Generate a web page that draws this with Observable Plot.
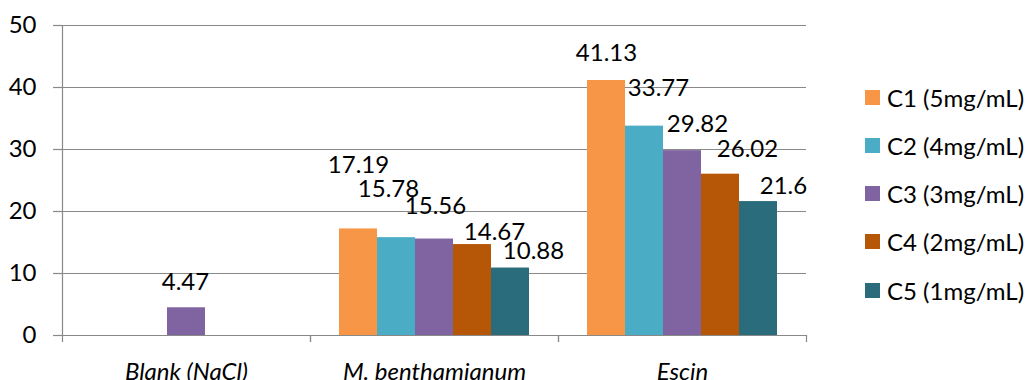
<!DOCTYPE html>
<html>
<head>
<meta charset="utf-8">
<script src="https://cdn.jsdelivr.net/npm/d3@7"></script>
<script src="https://cdn.jsdelivr.net/npm/@observablehq/plot@0.6"></script>
<style>
  html, body { margin: 0; padding: 0; background: #fff; }
  #wrap { position: relative; width: 1028px; height: 380px; overflow: hidden; }
  #chart { position: absolute; left: 0; top: 0; }
  #legend { position: absolute; left: 865px; top: 73px; }
  .lg-swatches { font-family: Lato, sans-serif !important; font-size: 24px !important; color: #000 !important; margin: 0 !important; min-height: 0 !important; }
  .lg-swatch { height: 48.25px; display: flex !important; align-items: center !important; margin: 0 !important; padding: 0 !important; white-space: nowrap; }
  .lg-swatch svg { margin-right: 7px !important; flex: none; }
</style>
</head>
<body>
<div id="wrap"><div id="chart"></div><div id="legend"></div></div>
<script>
// ---- data ----
const categories = ["Blank (NaCl)", "M. benthamianum", "Escin"];
const series = ["C1 (5mg/mL)", "C2 (4mg/mL)", "C3 (3mg/mL)", "C4 (2mg/mL)", "C5 (1mg/mL)"];
const blankValues = [null, null, 4.47, null, null];
const benthamianumValues = [17.19, 15.78, 15.56, 14.67, 10.88];
const escinValues = [41.13, 33.77, 29.82, 26.02, 21.6];
const yTicks = [0, 10, 20, 30, 40, 50];
const seriesColors = ["#F79646", "#4BACC6", "#8064A2", "#B65708", "#2A6B7C"];

// Excel-style label placement nudges (pixels), per category then series
const labelNudges = [
  [null, null, [-1, -25], null, null],
  [[0, -64], [-8, -48], [1, -33], [22, -12], [23, -17]],
  [[0, -27], [14, -38], [15, -26], [27, -25], [25, -15]]
];

const valuesByCategory = [blankValues, benthamianumValues, escinValues];
const rows = categories.flatMap((c, i) =>
  series.map((s, j) => ({category: c, series: s, value: valuesByCategory[i][j], nudge: labelNudges[i][j]}))
).filter(d => d.value != null);

const W = 830, H = 380, mL = 62, mR = 24, mT = 25, mB = 45;
const bandW = (W - mL - mR) / categories.length;
const gray = "#898989";
const font = "Lato, sans-serif";

const labelMarks = rows.map(d => Plot.text([d], {
  fx: "category", x: "series", y: "value", text: d => String(d.value),
  dx: d.nudge[0], dy: d.nudge[1], fill: "#000", fontSize: 24
}));

const chart = Plot.plot({
  width: W, height: H,
  marginTop: mT, marginBottom: mB, marginLeft: mL, marginRight: mR,
  style: {fontFamily: font, fontSize: "24px", color: "#000", background: "#fff"},
  fx: {domain: categories, padding: 0, label: null},
  x: {domain: series, paddingInner: 0, paddingOuter: 0.75, axis: null},
  y: {domain: [0, 50], label: null},
  color: {domain: series, range: seriesColors},
  marks: [
    Plot.gridY(yTicks, {stroke: gray, strokeOpacity: 1, strokeWidth: 1.2}),
    Plot.axisY(yTicks, {tickSize: 9, tickPadding: 17, stroke: gray, strokeWidth: 1.2, fill: "#000", label: null, fontSize: 24}),
    Plot.frame({anchor: "left", facet: "super", stroke: gray, strokeWidth: 1.2}),
    Plot.ruleY([0], {stroke: gray, strokeWidth: 1.2}),
    Plot.axisFx({anchor: "bottom", tickSize: 7, tickFormat: () => "", dx: -bandW / 2, stroke: gray, strokeWidth: 1.2, label: null}),
    Plot.axisFx({anchor: "bottom", tickSize: 7, tickFormat: () => "", dx: bandW / 2, stroke: gray, strokeWidth: 1.2, label: null}),
    Plot.axisFx({anchor: "bottom", tickSize: 0, tickPadding: 27, fontStyle: "italic", fill: "#000", label: null, fontSize: 24}),
    Plot.barY(rows, {fx: "category", x: "series", y: "value", fill: "series"}),
    ...labelMarks
  ]
});
document.getElementById("chart").appendChild(chart);

const legend = Plot.legend({
  legend: "swatches",
  color: {domain: series, range: seriesColors},
  columns: 1,
  swatchSize: 15,
  className: "lg"
});
document.getElementById("legend").appendChild(legend);
</script>
</body>
</html>
